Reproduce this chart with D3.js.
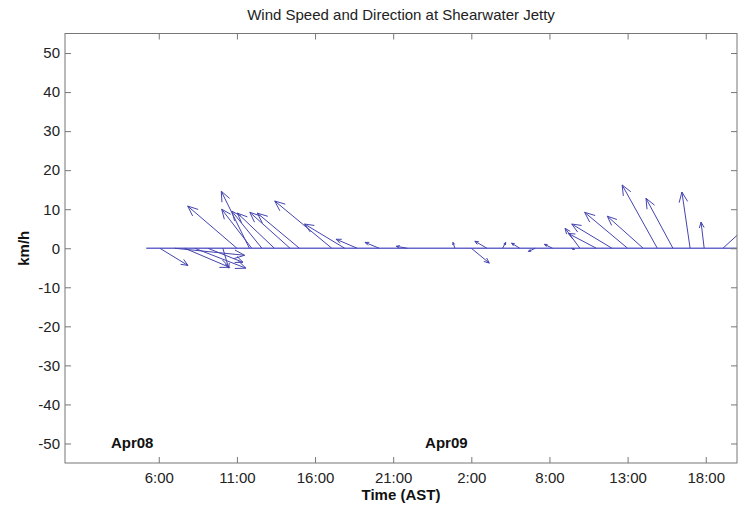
<!DOCTYPE html>
<style>
body { margin: 0; background: #fff; }
text { font-family: "Liberation Sans", Arial, sans-serif; }
.axis .domain { display: none; }
.axis line { stroke: #777; }
.axis text { fill: #222; font-size: 15px; }
</style>
<svg width="751" height="505"></svg>
<script src="https://d3js.org/d3.v7.min.js"></script>
<script>

// hours since Apr08 00:00 (AST), wind components in km/h
var times = [6.07, 7.02, 7.66, 8.30, 9.14, 10.1, 11.0, 11.8, 11.95, 12.6, 13.4, 14.4, 15.0,
             17.07, 17.9, 18.7, 20.1, 21.9, 24.95, 26.0, 27.0, 28.0, 29.1, 30.1, 31.2, 32.4,
             32.95, 34.0, 35.0, 36.0, 37.0, 37.9, 38.9, 40.0, 40.9, 42.1];
var u = [7.2, 17.9, 11.5, 13.1, 9.0, 1.5, -12.6, -7.2, -7.7, -7.7, -9.5, -10.3, -10.8,
         -14.6, -10.3, -5.4, -3.6, -2.8, -0.5, 4.6, -3.1, 0.8, -2.1, -1.8, -2.1, 0.8,
         -3.8, -7.2, -10.3, -11.0, -9.2, -9.0, -6.9, -2.1, -0.8, 6.0];
var v = [-4.4, -1.8, -4.9, -5.1, -3.6, -5.1, 10.8, 14.6, 10.0, 9.5, 9.0, 9.2, 9.0,
         12.1, 6.2, 2.3, 1.5, 0.5, 1.5, -3.8, 1.8, 1.5, 1.3, -0.8, 1.0, -0.3,
         5.1, 3.8, 6.2, 9.2, 8.2, 16.2, 12.8, 14.4, 6.7, 5.5];
var baseStart = 5.2, baseEnd = 43;

var xTicks = [6, 11, 16, 21, 26, 31, 36, 41];
var xTickLabels = ["6:00", "11:00", "16:00", "21:00", "2:00", "8:00", "13:00", "18:00"];
var yTicks = [-50, -40, -30, -20, -10, 0, 10, 20, 30, 40, 50];
var dayLabels = ["Apr08", "Apr09"];
var dayPos = [4.3, 24.4];

var svg = d3.select("svg"),
    pL = 65, pR = 737, pT = 33.5, pB = 463;

var x = d3.scaleLinear().domain([0, 43]).range([pL, pR]);
var y = d3.scaleLinear().domain([-55, 55]).range([pB, pT]);
var k = y(0) - y(1); // px per km/h, same on both axes

svg.append("defs").append("clipPath").attr("id", "clip")
  .append("rect").attr("x", pL).attr("y", pT)
  .attr("width", pR - pL).attr("height", pB - pT);

var plot = svg.append("g").attr("clip-path", "url(#clip)");

plot.append("line")
    .attr("x1", x(baseStart)).attr("x2", x(baseEnd))
    .attr("y1", y(0)).attr("y2", y(0))
    .attr("stroke", "#6868cc")
    .attr("stroke-width", 1.5);

var arrows = plot.selectAll("g.arrow")
  .data(times.map(function(t, i) { return {t: t, u: u[i], v: v[i]}; }))
  .enter().append("g")
    .attr("class", "arrow")
    .attr("stroke", "#4444b0")
    .attr("stroke-width", 1)
    .attr("fill", "none");

arrows.append("path")
    .attr("d", function(d) {
      var x0 = x(d.t), y0 = y(0),
          x1 = x0 + d.u * k, y1 = y0 - d.v * k,
          len = Math.hypot(x1 - x0, y1 - y0),
          h = Math.min(0.18 * len + 1.5, 11),
          a = Math.atan2(y1 - y0, x1 - x0), w = 0.4;
      return "M" + x0 + "," + y0 + "L" + x1 + "," + y1 +
        "M" + (x1 - h * Math.cos(a - w)) + "," + (y1 - h * Math.sin(a - w)) +
        "L" + x1 + "," + y1 +
        "L" + (x1 - h * Math.cos(a + w)) + "," + (y1 - h * Math.sin(a + w));
    });

// frame
svg.append("rect")
    .attr("x", pL).attr("y", pT)
    .attr("width", pR - pL).attr("height", pB - pT)
    .attr("fill", "none")
    .attr("stroke", "#777");

svg.append("g")
    .attr("class", "axis")
    .attr("transform", "translate(0," + pB + ")")
    .call(d3.axisBottom(x).tickValues(xTicks).tickSizeInner(-6).tickSizeOuter(0).tickPadding(9)
      .tickFormat(function(d, i) { return xTickLabels[i]; }));

svg.append("g")
    .attr("class", "axis")
    .attr("transform", "translate(0," + pT + ")")
    .call(d3.axisTop(x).tickValues(xTicks).tickSizeInner(-6).tickSizeOuter(0).tickFormat(""));

svg.append("g")
    .attr("class", "axis")
    .attr("transform", "translate(" + pL + ",0)")
    .call(d3.axisLeft(y).tickValues(yTicks).tickSizeInner(-6).tickSizeOuter(0).tickPadding(5)
      .tickFormat(function(d) { return String(d); }));

svg.append("g")
    .attr("class", "axis")
    .attr("transform", "translate(" + pR + ",0)")
    .call(d3.axisRight(y).tickValues(yTicks).tickSizeInner(-6).tickSizeOuter(0).tickFormat(""));

svg.selectAll("text.day")
  .data(dayLabels)
  .enter().append("text")
    .attr("class", "day")
    .attr("x", function(d, i) { return x(dayPos[i]); })
    .attr("y", 448)
    .attr("text-anchor", "middle")
    .attr("font-size", 15)
    .attr("font-weight", "bold")
    .attr("fill", "#111")
    .text(function(d) { return d; });

svg.append("text")
    .attr("x", (pL + pR) / 2)
    .attr("y", 20)
    .attr("text-anchor", "middle")
    .attr("font-size", 15)
    .attr("fill", "#222")
    .text("Wind Speed and Direction at Shearwater Jetty");

svg.append("text")
    .attr("x", (pL + pR) / 2)
    .attr("y", 500)
    .attr("text-anchor", "middle")
    .attr("font-size", 15)
    .attr("font-weight", "bold")
    .attr("fill", "#111")
    .text("Time (AST)");

svg.append("text")
    .attr("transform", "translate(29," + y(0) + ") rotate(-90)")
    .attr("text-anchor", "middle")
    .attr("font-size", 15)
    .attr("font-weight", "bold")
    .attr("fill", "#111")
    .text("km/h");

</script>
